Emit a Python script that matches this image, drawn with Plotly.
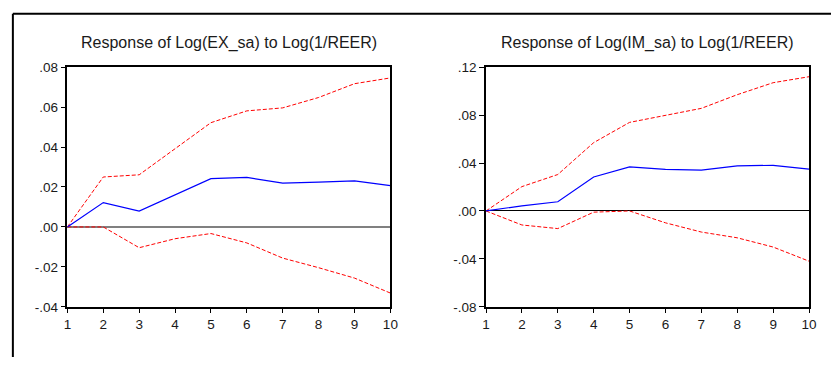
import plotly.graph_objects as go

periods = [1, 2, 3, 4, 5, 6, 7, 8, 9, 10]

ex_resp = [0.0, 0.0122, 0.0079, 0.0160, 0.0242, 0.0248, 0.0219, 0.0224, 0.0231, 0.0207]
ex_upper = [0.0, 0.0250, 0.0261, 0.0392, 0.0522, 0.0581, 0.0596, 0.0648, 0.0717, 0.0746]
ex_lower = [0.0, 0.0, -0.0104, -0.0059, -0.0033, -0.0080, -0.0156, -0.0204, -0.0256, -0.0331]

im_resp = [0.0, 0.0043, 0.0077, 0.0283, 0.0368, 0.0347, 0.0341, 0.0376, 0.0381, 0.0349]
im_upper = [0.0, 0.0203, 0.0304, 0.0570, 0.0739, 0.0797, 0.0856, 0.0970, 0.1070, 0.1120]
im_lower = [0.0, -0.0117, -0.0147, -0.0010, 0.0, -0.0099, -0.0176, -0.0224, -0.0301, -0.0419]

left_title = "Response of Log(EX_sa) to Log(1/REER)"
right_title = "Response of Log(IM_sa) to Log(1/REER)"

left_yticks = [-0.04, -0.02, 0.0, 0.02, 0.04, 0.06, 0.08]
left_yticklabels = ["-.04", "-.02", ".00", ".02", ".04", ".06", ".08"]
right_yticks = [-0.08, -0.04, 0.0, 0.04, 0.08, 0.12]
right_yticklabels = ["-.08", "-.04", ".00", ".04", ".08", ".12"]
xticklabels = [str(p) for p in periods]

W, H = 839, 365
FONT = "Liberation Sans, Arial, sans-serif"
TXT = "#1a1a1a"

fig = go.Figure()

def add_panel(resp, upper, lower, xa, ya):
    for vals in (upper, lower):
        fig.add_trace(go.Scatter(x=periods, y=vals, mode="lines", xaxis=xa, yaxis=ya,
                                 line=dict(color="#ff0000", width=1, dash="4px,2px"),
                                 showlegend=False, hoverinfo="skip"))
    fig.add_trace(go.Scatter(x=periods, y=resp, mode="lines", xaxis=xa, yaxis=ya,
                             line=dict(color="#0000ff", width=1.2),
                             showlegend=False, hoverinfo="skip"))

add_panel(ex_resp, ex_upper, ex_lower, "x", "y")
add_panel(im_resp, im_upper, im_lower, "x2", "y2")

def px_x(a, b):
    return [a / W, b / W]

ydom = [1 - 312.7 / H, 1 - 62.7 / H]

axis_common = dict(showline=True, mirror=True, linecolor="black", linewidth=1.5,
                   showgrid=False, ticks="outside", tickcolor="black", tickwidth=1,
                   tickfont=dict(family=FONT, size=13.5, color=TXT))

fig.update_layout(
    width=W, height=H,
    margin=dict(l=0, r=0, t=0, b=0),
    paper_bgcolor="white", plot_bgcolor="white",
    font=dict(family=FONT, color=TXT),
    xaxis=dict(domain=px_x(64.3, 392), range=[1, 10], tickvals=periods, ticktext=xticklabels,
               ticklen=4, zeroline=False, anchor="y", **axis_common),
    yaxis=dict(domain=ydom, range=[-0.04, 0.08], tickvals=left_yticks, ticktext=left_yticklabels,
               ticklen=5, zeroline=True, zerolinecolor="#808080", zerolinewidth=1.6,
               anchor="x", **axis_common),
    xaxis2=dict(domain=px_x(489, 816.7), range=[1, 10], tickvals=periods, ticktext=xticklabels,
                ticklen=4, zeroline=False, anchor="y2", **axis_common),
    yaxis2=dict(domain=ydom, range=[-0.08, 0.12], tickvals=right_yticks, ticktext=right_yticklabels,
                ticklen=5, zeroline=True, zerolinecolor="black", zerolinewidth=1,
                anchor="x2", **axis_common),
    annotations=[
        dict(text=left_title, x=(64.3 + 392) / 2 / W, y=1 - 38 / H, xref="paper", yref="paper",
             xanchor="center", yanchor="middle", showarrow=False,
             font=dict(family=FONT, size=16, color=TXT)),
        dict(text=right_title, x=(489 + 816.7) / 2 / W, y=1 - 38 / H, xref="paper", yref="paper",
             xanchor="center", yanchor="middle", showarrow=False,
             font=dict(family=FONT, size=16, color=TXT)),
    ],
    shapes=[
        dict(type="line", xref="paper", yref="paper", x0=9 / W, x1=1, y0=1 - 7 / H, y1=1 - 7 / H,
             line=dict(color="black", width=2)),
        dict(type="line", xref="paper", yref="paper", x0=9 / W, x1=9 / W, y0=0, y1=1 - 7 / H,
             line=dict(color="black", width=2)),
    ],
)

fig.write_html("out.html", config={"displayModeBar": False},
               post_script="document.body.style.margin='0';document.body.style.overflow='hidden';")
